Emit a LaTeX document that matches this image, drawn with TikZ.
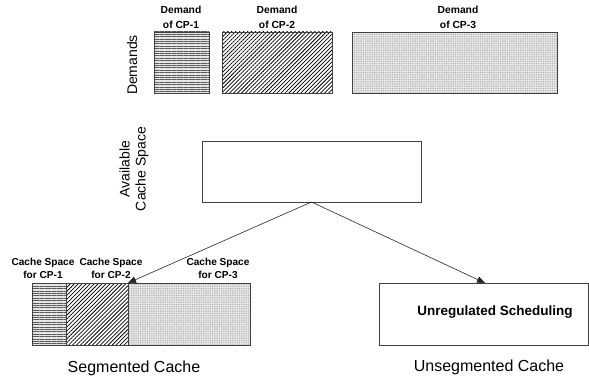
\documentclass[tikz,border=0pt]{standalone}
\usepackage{fontspec}
\setmainfont{Liberation Sans}
\usetikzlibrary{patterns,patterns.meta,arrows.meta}
\begin{document}
\begin{tikzpicture}[x=1pt,y=-1pt,
  box/.style={draw=black!75,line width=0.8pt,inner sep=0pt,outer sep=0pt},
  hpat/.style={box,preaction={fill=gray!20},pattern={Lines[angle=0,distance=2.4pt,line width=0.45pt]},pattern color=black!65},
  dpat/.style={box,preaction={fill=white},pattern={Lines[angle=45,distance=2.8pt,line width=0.75pt]},pattern color=black},
  cpat/.style={box,preaction={fill=gray!15},pattern={Dots[distance=1.8pt,radius=0.6pt]},pattern color=gray!65},
  lbl/.style={font=\bfseries\fontsize{10.3}{15}\selectfont,align=center,inner sep=0pt},
  clbl/.style={font=\bfseries\fontsize{10.1}{13}\selectfont,align=center,inner sep=0pt},
  big/.style={font=\fontsize{16}{18}\selectfont,inner sep=0pt},
  side/.style={font=\fontsize{14}{16}\selectfont,align=center,inner sep=0pt,rotate=90},
  arr/.style={draw=black!85,line width=0.6pt,-{Triangle[length=8pt,width=6.5pt]}}]
\useasboundingbox (0,0) rectangle (589,382);
% demands
\node[hpat,minimum width=55pt,minimum height=61pt] (d1) at (181.5,62.5) {};
\node[dpat,minimum width=110pt,minimum height=61pt] (d2) at (277,62.5) {};
\node[cpat,minimum width=205pt,minimum height=61pt] (d3) at (454.5,62.5) {};
\node[lbl] (l1) at (181,17) {Demand\\of CP-1};
\node[lbl] (l2) at (277,17) {Demand\\of CP-2};
\node[lbl] (l3) at (458,17) {Demand\\of CP-3};
\node[side] (dem) at (132,65) {Demands};
% available
\node[box,minimum width=219pt,minimum height=61pt] (av) at (311.5,171.5) {};
\node[side] (avl) at (134,169) {Available\\Cache Space};
% segmented
\node[hpat,minimum width=34pt,minimum height=62pt] (s1) at (49,314) {};
\node[dpat,minimum width=62pt,minimum height=62pt] (s2) at (97,314) {};
\node[cpat,minimum width=122pt,minimum height=62pt] (s3) at (189,314) {};
\node[clbl] (c1) at (43,268) {Cache Space\\for CP-1};
\node[clbl] (c2) at (111,268) {Cache Space\\for CP-2};
\node[clbl] (c3) at (218,268) {Cache Space\\for CP-3};
\node[big] (seg) at (134,368) {Segmented Cache};
% unsegmented
\node[box,minimum width=209pt,minimum height=62pt] (u) at (483.5,314) {};
\node[font=\bfseries\fontsize{13.5}{15}\selectfont,inner sep=0pt] (ut) at (495,312) {Unregulated Scheduling};
\node[big] (useg) at (489,367) {Unsegmented Cache};
% arrows
\coordinate (t1) at (s2.north east);
\coordinate (t2) at (485,283);
\draw[arr] (av.south) -- (t1);
\draw[arr] (av.south) -- (t2);
\end{tikzpicture}
\end{document}
